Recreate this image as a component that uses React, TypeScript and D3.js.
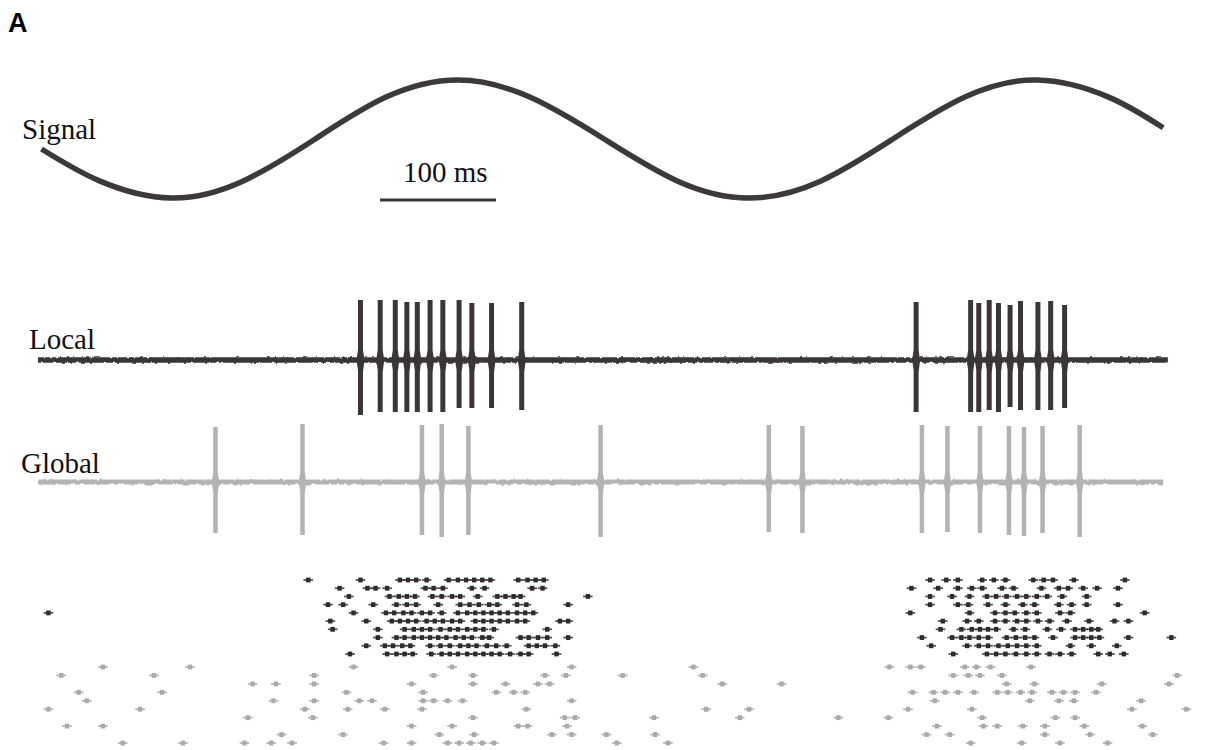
import React from 'react';
import * as d3 from 'd3';

// ---- time axis (ms) ----
const TIME_DOMAIN = [0, 975];
const SCALE_BAR_MS = 100;

// ---- stimulus signal (normalized) ----
const SIGNAL_T = [3, 53, 115, 177, 239, 300, 362, 424, 488, 551, 613, 675, 737, 799, 861, 923, 970];
const SIGNAL_V = [-0.17, -0.71, -1, -0.71, 0, 0.71, 1, 0.71, 0, -0.71, -1, -0.71, 0, 0.71, 1, 0.71, 0.19];

// ---- local recording spikes (ms, up / down amplitude in µV) ----
const LOCAL_SPIKE_T = [278, 295, 308, 318, 327, 338, 349, 363, 374, 391, 417, 757, 804, 811, 820, 828, 838, 847, 862, 873, 885];
const LOCAL_SPIKE_UP = [60, 60, 60, 58, 58, 60, 60, 60, 57, 57, 58, 58, 60, 57, 60, 57, 55, 59, 58, 59, 55];
const LOCAL_SPIKE_DOWN = [-55, -52, -52, -52, -52, -52, -52, -48, -48, -48, -50, -52, -52, -52, -50, -52, -47, -50, -50, -50, -48];

// ---- global recording spikes ----
const GLOBAL_SPIKE_T = [153, 228, 331, 348, 371, 485, 630, 659, 762, 784, 812, 837, 850, 866, 898];
const GLOBAL_SPIKE_UP = [55, 58, 57, 58, 56, 57, 57, 56, 57, 56, 56, 56, 55, 56, 57];
const GLOBAL_SPIKE_DOWN = [-51, -53, -53, -55, -53, -55, -50, -51, -51, -50, -51, -53, -54, -51, -55];

// ---- raster: local trials (spike times, ms) ----
const LOCAL_RASTER = [
  [233, 278, 312, 319, 326, 335, 354, 362, 369, 376, 383, 390, 414, 422, 429, 436, 769, 783, 793, 814, 824, 834, 858, 867, 875, 893, 937],
  [260, 284, 291, 301, 334, 341, 349, 374, 385, 426, 435, 753, 776, 793, 805, 814, 831, 841, 865, 880, 888, 901, 913, 931],
  [268, 303, 311, 318, 325, 340, 348, 357, 364, 379, 396, 403, 410, 416, 474, 769, 788, 803, 818, 826, 835, 844, 852, 861, 870, 883, 904],
  [250, 263, 289, 309, 318, 326, 345, 364, 372, 380, 389, 396, 413, 421, 457, 769, 793, 802, 819, 834, 849, 859, 880, 891, 904, 931],
  [9, 272, 300, 307, 315, 322, 331, 338, 348, 362, 370, 377, 384, 391, 398, 405, 413, 420, 427, 752, 803, 825, 834, 842, 852, 861, 881, 890, 954],
  [252, 283, 305, 312, 319, 326, 335, 342, 349, 357, 364, 377, 384, 391, 398, 405, 413, 420, 450, 457, 780, 801, 811, 825, 834, 844, 852, 862, 872, 887, 906, 928, 940],
  [254, 293, 316, 324, 331, 338, 347, 355, 362, 370, 377, 384, 393, 439, 778, 796, 805, 812, 819, 826, 841, 851, 870, 882, 894, 901, 908, 914],
  [293, 309, 316, 324, 331, 338, 345, 352, 360, 367, 374, 383, 389, 416, 423, 431, 439, 457, 762, 788, 796, 803, 811, 819, 835, 843, 851, 859, 875, 894, 901, 908, 915, 940, 977],
  [283, 299, 306, 314, 321, 338, 347, 355, 364, 371, 378, 387, 395, 404, 423, 430, 437, 446, 770, 801, 811, 819, 828, 836, 844, 852, 861, 890, 908, 930],
  [269, 301, 309, 316, 323, 339, 348, 355, 362, 370, 377, 384, 391, 398, 407, 416, 423, 447, 789, 818, 826, 834, 843, 852, 861, 872, 881, 891, 914, 924, 936],
];

// ---- raster: global trials (spike times, ms) ----
const GLOBAL_RASTER = [
  [56, 131, 272, 357, 460, 565, 734, 752, 761, 799, 809, 821, 856],
  [20, 100, 238, 341, 375, 437, 455, 504, 573, 789, 802, 812, 831, 982],
  [185, 205, 238, 322, 375, 403, 431, 441, 590, 641, 835, 859, 917, 975],
  [35, 107, 266, 332, 395, 410, 420, 754, 772, 782, 793, 807, 827, 836, 847, 857, 874, 884, 894, 912],
  [42, 203, 238, 277, 288, 332, 341, 353, 366, 460, 773, 855, 880, 893, 951],
  [9, 88, 230, 267, 299, 331, 421, 576, 613, 750, 805, 943, 990],
  [181, 237, 375, 454, 463, 531, 605, 690, 733, 814, 877, 894],
  [25, 56, 322, 357, 414, 422, 456, 775, 815, 827, 849, 868, 902, 952],
  [210, 263, 346, 376, 443, 460, 490, 532, 766, 786, 868, 907, 961],
  [73, 125, 178, 201, 219, 298, 322, 353, 363, 373, 383, 393, 499, 543, 804, 848, 881, 922],
];

const LABELS = { panel: 'A', signal: 'Signal', local: 'Local', global: 'Global', bar: '100 ms' };

const DARK = '#3a3536';
const GRAY = '#b3b3b3';

const W = 1214;
const H = 750;

export default function App() {
  const x = d3.scaleLinear().domain(TIME_DOMAIN).range([38, 38 + 975 * 1.16]);
  const ySig = d3.scaleLinear().domain([-1, 1]).range([198, 80]);
  const yLoc = d3.scaleLinear().domain([-60, 60]).range([420, 300]);
  const yGlo = d3.scaleLinear().domain([-60, 60]).range([542, 422]);
  const rowLocal = d3.scalePoint<number>().domain(d3.range(10)).range([580, 654]);
  const rowGlobal = d3.scalePoint<number>().domain(d3.range(10)).range([667, 743]);

  const sigLine = d3
    .line<number>()
    .x((_, i) => x(SIGNAL_T[i]))
    .y((v) => ySig(v))
    .curve(d3.curveNatural);

  const localEnd = 974;
  const globalEnd = 970;

  const spikeShape = (t: number, up: number, down: number, ys: d3.ScaleLinear<number, number>, w: number) => {
    const cx = x(t);
    const top = ys(up);
    const bot = ys(down);
    const y0 = ys(0);
    return (
      `M${cx - w / 2},${top} L${cx + w / 2},${top} L${cx + w / 2},${y0 - 10} L${cx + w / 2 + 1.5},${y0} L${cx + w / 2},${y0 + 12} ` +
      `L${cx + w / 2},${bot} L${cx - w / 2},${bot} L${cx - w / 2},${y0 + 10} L${cx - w / 2 - 1.5},${y0} L${cx - w / 2},${y0 - 10} Z`
    );
  };

  const dot = (cx: number, cy: number, color: string, key: string, strong: boolean) => (
    <g key={key} fill={color}>
      <rect x={cx - 4.8} y={cy - 0.9} width={9.6} height={1.8} opacity={strong ? 0.8 : 0.85} />
      <rect x={cx - 2.2} y={cy - 2.4} width={4.4} height={4.8} />
    </g>
  );

  return (
    <svg
      width={W}
      height={H}
      viewBox={`0 0 ${W} ${H}`}
      style={{ position: 'absolute', left: 0, top: 0, background: '#fff' }}
    >
      <defs>
        <filter id="jitter" filterUnits="userSpaceOnUse" x={0} y={0} width={W} height={H}>
          <feTurbulence type="fractalNoise" baseFrequency="0.3 0.1" numOctaves={1} seed={4} />
          <feDisplacementMap in="SourceGraphic" scale={3.5} xChannelSelector="R" yChannelSelector="G" />
        </filter>
      </defs>
      <rect width={W} height={H} fill="#fff" />

      {/* panel letter */}
      <text x={8} y={32} fontFamily="'Liberation Sans', Arial, sans-serif" fontWeight="bold" fontSize={27} fill="#000">
        {LABELS.panel}
      </text>

      {/* signal */}
      <text x={22} y={139} fontFamily="'Liberation Serif', 'Times New Roman', serif" fontSize={29} fill="#111">
        {LABELS.signal}
      </text>
      <path d={sigLine(SIGNAL_V) || ''} fill="none" stroke="#3d3839" strokeWidth={5.5} />

      {/* scale bar */}
      <text x={403} y={182} fontFamily="'Liberation Serif', 'Times New Roman', serif" fontSize={29} fill="#111">
        {LABELS.bar}
      </text>
      <line x1={380} x2={380 + (x(SCALE_BAR_MS) - x(0))} y1={200} y2={200} stroke={DARK} strokeWidth={3.2} />

      {/* local trace */}
      <text x={29} y={349} fontFamily="'Liberation Serif', 'Times New Roman', serif" fontSize={29} fill="#111">
        {LABELS.local}
      </text>
      <g filter="url(#jitter)">
        <line x1={x(0)} x2={x(localEnd)} y1={yLoc(0)} y2={yLoc(0)} stroke={DARK} strokeWidth={5.5} />
      </g>
      {LOCAL_SPIKE_T.map((t, i) => (
        <path key={`ls${i}`} d={spikeShape(t, LOCAL_SPIKE_UP[i], LOCAL_SPIKE_DOWN[i], yLoc, 5)} fill={DARK} />
      ))}

      {/* global trace */}
      <text x={21} y={473} fontFamily="'Liberation Serif', 'Times New Roman', serif" fontSize={29} fill="#111">
        {LABELS.global}
      </text>
      <g filter="url(#jitter)">
        <line x1={x(0)} x2={x(globalEnd)} y1={yGlo(0)} y2={yGlo(0)} stroke={GRAY} strokeWidth={5} />
      </g>
      {GLOBAL_SPIKE_T.map((t, i) => (
        <path key={`gs${i}`} d={spikeShape(t, GLOBAL_SPIKE_UP[i], GLOBAL_SPIKE_DOWN[i], yGlo, 4.5)} fill={GRAY} />
      ))}

      {/* rasters */}
      {LOCAL_RASTER.map((row, r) => row.map((t, j) => dot(x(t), rowLocal(r) as number, '#2f2b2c', `lr${r}-${j}`, true)))}
      {GLOBAL_RASTER.map((row, r) => row.map((t, j) => dot(x(t), rowGlobal(r) as number, '#a9a9a9', `gr${r}-${j}`, false)))}
    </svg>
  );
}
